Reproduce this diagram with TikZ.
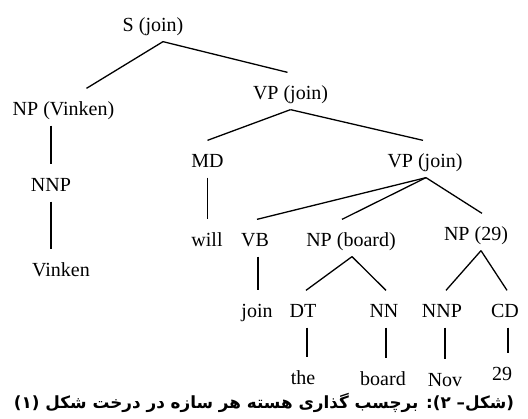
\documentclass[tikz,border=0pt]{standalone}
\usepackage{fontspec}
\setmainfont{Liberation Serif}
\newfontfamily\arabicfont[Script=Arabic]{DejaVu Sans}
\TeXXeTstate=1

\begin{document}
\begin{tikzpicture}[x=1pt,y=1pt,line width=1.3pt,
    cat/.style={anchor=base,inner xsep=0pt,inner ysep=5pt,text height=22pt,text depth=4pt,
      font=\fontsize{20}{24}\selectfont},
    capt/.style={anchor=base,inner sep=0pt,font=\arabicfont\bfseries\fontsize{16}{20}\selectfont}]
  \useasboundingbox (0,0) rectangle (528,-419);

  \path
  (153,-32) node[cat](s) {S (join)}
  (63.5,-116) node[cat](np1) {NP (Vinken)}
  (290.5,-100) node[cat](vp1) {VP (join)}
  (51,-192) node[cat](nnp1) {NNP}
  (61,-277) node[cat](vinken) {Vinken}
  (207.5,-168) node[cat](md) {MD}
  (425,-168) node[cat](vp2) {VP (join)}
  ;
  \path
  (207,-247) node[cat](will) {will}
  (255,-247) node[cat](vb) {VB}
  (351,-247) node[cat](npb) {NP (board)}
  (476,-241) node[cat](np29) {NP (29)}
  ;
  \path
  (257,-318) node[cat](join) {join}
  (303,-318) node[cat](dt) {DT}
  (384,-318) node[cat](nn) {NN}
  (442,-318) node[cat](nnp2) {NNP}
  (505,-318) node[cat](cd) {CD}
  ;
  \path
  (303,-385) node[cat](the) {the}
  (383,-386) node[cat](board) {board}
  (445,-387) node[cat](nov) {Nov}
  (502,-381) node[cat](n29) {29}
  ;

  \draw ([xshift=10pt]s.south) -- ([xshift=23pt]np1.north);
  \draw ([xshift=10pt]s.south) -- ([xshift=-3pt]vp1.north);
  \draw (np1.south -| nnp1) -- (nnp1.north);
  \draw (nnp1.south) -- (nnp1.south |- vinken.north);

  \draw (vp1.south) -- (md.north);
  \draw (vp1.south) -- ([xshift=-2pt]vp2.north);
  \draw (md.south) -- (md.south |- will.north);

  \draw ([xshift=1pt]vp2.south) -- ([xshift=2pt]vb.north);
  \draw ([xshift=1pt]vp2.south) -- ([xshift=-9pt]npb.north);
  \draw ([xshift=1pt]vp2.south) -- ([xshift=6pt]np29.north);

  \draw ([xshift=3pt]vb.south) -- ([xshift=1pt]join.north);
  \draw ([xshift=1pt]npb.south) -- ([xshift=3pt]dt.north);
  \draw ([xshift=1pt]npb.south) -- ([xshift=2pt]nn.north);
  \draw ([xshift=5pt]np29.south) -- ([xshift=4pt]nnp2.north);
  \draw ([xshift=5pt]np29.south) -- ([xshift=2pt]cd.north);

  \draw ([xshift=4pt]dt.south) -- ([xshift=4pt]the.north);
  \draw ([xshift=2pt]nn.south) -- ([xshift=3pt]board.north);
  \draw ([xshift=3pt]nnp2.south) -- (nov.north);
  \draw ([xshift=3pt]cd.south) -- ([xshift=6pt]n29.north);

  \node[capt] (caption) at (264,-409)
    {\resizebox{500pt}{!}{\beginR (شکل– ۲): برچسب گذاری هسته هر سازه در درخت شکل (۱)\endR}};
\end{tikzpicture}
\end{document}
